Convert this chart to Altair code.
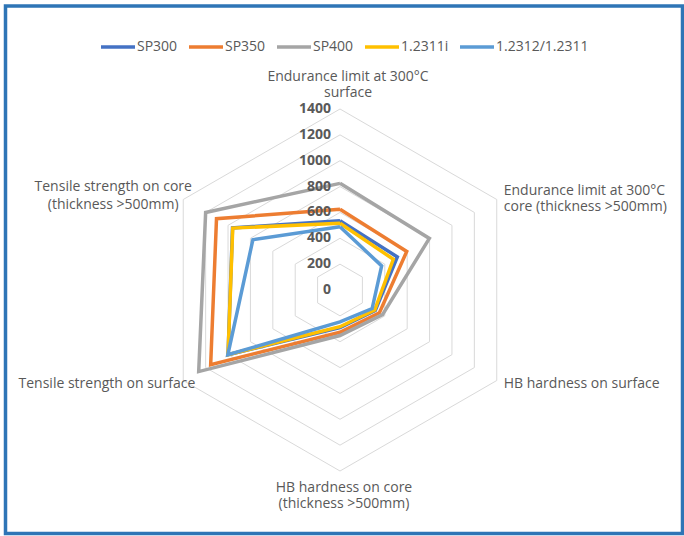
import altair as alt
import pandas as pd

# ---- data ----
categories = [
    "Endurance limit at 300°C\nsurface",
    "Endurance limit at 300°C\ncore (thickness >500mm)",
    "HB hardness on surface",
    "HB hardness on core\n(thickness >500mm)",
    "Tensile strength on surface",
    "Tensile strength on core\n(thickness >500mm)",
]
series_names = ["SP300", "SP350", "SP400", "1.2311i", "1.2312/1.2311"]
series_colors = ["#4472C4", "#ED7D31", "#A5A5A5", "#FFC000", "#5B9BD5"]

sp300 = [536, 512, 315, 290, 1000, 960]
sp350 = [624, 596, 352, 327, 1155, 1103]
sp400 = [825, 798, 380, 352, 1262, 1200]
w12311i = [516, 476, 310, 284, 1000, 958]
w12312 = [490, 372, 287, 247, 1002, 778]

ring_values = [200, 400, 600, 800, 1000, 1200, 1400]
tick_values = [0, 200, 400, 600, 800, 1000, 1200, 1400]

# ---- tables built from the arrays ----
all_series = [sp300, sp350, sp400, w12311i, w12312]
rows = []
for name, vals in zip(series_names, all_series):
    for j in range(len(categories) + 1):
        idx = j % len(categories)
        rows.append({"series": name, "ord": j, "idx": idx, "value": vals[idx]})
series_df = pd.DataFrame(rows)

grid_rows = []
for r in ring_values:
    for j in range(len(categories) + 1):
        grid_rows.append({"ring": r, "ord": j, "idx": j % len(categories), "value": r})
grid_df = pd.DataFrame(grid_rows)

tick_df = pd.DataFrame({"value": tick_values, "idx": 0})
cat_df = pd.DataFrame({"label": categories, "idx": list(range(len(categories))),
                       "value": max(ring_values)})

# ---- geometry ----
W, H = 684, 536
CX, CY = 340, 290
RPX = 181.0
k = RPX / max(ring_values)
xscale = alt.Scale(domain=[-CX / k, (W - CX) / k], nice=False, zero=False)
yscale = alt.Scale(domain=[-(H - CY) / k, CY / k], nice=False, zero=False)

FONT = "Open Sans"
TXT = "#595959"


def polar(ch):
    return ch.transform_calculate(
        ang="datum.idx * PI / 3",
    ).transform_calculate(
        x="datum.value * sin(datum.ang)",
        y="datum.value * cos(datum.ang)",
    )


X = alt.X("x:Q", scale=xscale, axis=None)
Y = alt.Y("y:Q", scale=yscale, axis=None)

grid = polar(alt.Chart(grid_df)).mark_line(color="#D9D9D9", strokeWidth=1).encode(
    x=X, y=Y, detail="ring:N", order="ord:Q"
)

lines = polar(alt.Chart(series_df)).mark_line(strokeWidth=3.5, strokeJoin="miter").encode(
    x=X, y=Y,
    color=alt.Color(
        "series:N",
        scale=alt.Scale(domain=series_names, range=series_colors),
        sort=series_names,
        legend=alt.Legend(
            orient="none", legendX=99, legendY=28, direction="horizontal",
            title=None, symbolType="stroke", symbolStrokeWidth=3.5,
            symbolSize=1156, labelFontSize=14, labelColor=TXT, labelFont=FONT,
            columnPadding=4, labelOffset=0, padding=0,
        ),
    ),
    order="ord:Q",
)

ticks = polar(alt.Chart(tick_df)).mark_text(
    align="right", baseline="middle", dx=-9, font=FONT, fontSize=14,
    fontWeight="bold", color=TXT,
).encode(x=X, y=Y, text=alt.Text("value:Q", format="d"))


def label_layer(i, align, baseline, dx, dy, lh=16):
    return polar(alt.Chart(cat_df)).transform_filter(f"datum.idx == {i}").mark_text(
        align=align, baseline=baseline, dx=dx, dy=dy, font=FONT, fontSize=14,
        color=TXT, lineBreak="\n", lineHeight=lh,
    ).encode(x=X, y=Y, text="label:N")


labels = [
    label_layer(0, "center", "bottom", 8, -25),
    label_layer(1, "left", "middle", 7, -9),
    label_layer(2, "left", "middle", 7, 3),
    label_layer(3, "center", "top", 4, 10),
    label_layer(4, "right", "middle", 12, 3),
    label_layer(5, "center", "middle", -70, -13, 18),
]

border = alt.Chart(pd.DataFrame({"a": [0]})).mark_rect(
    filled=False, stroke="#2E75B6", strokeWidth=3.5
).encode(x=alt.value(5.5), x2=alt.value(682.5), y=alt.value(6), y2=alt.value(533.5))

chart = alt.layer(grid, lines, ticks, *labels, border).properties(
    width=W, height=H, autosize=alt.AutoSizeParams(type="none"), padding=0,
    background="white",
).configure_view(stroke=None)

chart.save("out.html", embed_options={"renderer": "svg", "actions": False})
